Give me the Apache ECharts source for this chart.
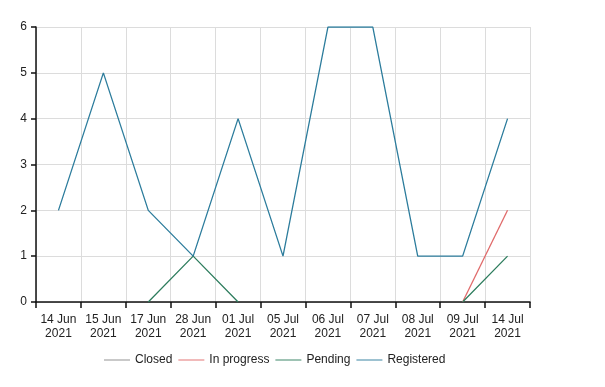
<!DOCTYPE html>
<html><head><meta charset="utf-8">
<script src="https://cdn.jsdelivr.net/npm/echarts@6/dist/echarts.min.js"></script>
<style>html,body{margin:0;padding:0;background:#fff}#c{width:605px;height:387px}</style>
</head><body><div id="c"></div>
<script>
const categories = ["14 Jun\n2021","15 Jun\n2021","17 Jun\n2021","28 Jun\n2021","01 Jul\n2021","05 Jul\n2021","06 Jul\n2021","07 Jul\n2021","08 Jul\n2021","09 Jul\n2021","14 Jul\n2021"];
const closed = [null,null,null,null,null,null,null,null,null,null,null];
const inProgress = [null,null,null,null,null,null,null,null,null,0,2];
const pending = [null,null,0,1,0,null,null,null,null,0,1];
const registered = [2,5,2,1,4,1,6,6,1,1,4];
const yTicks = [0,1,2,3,4,5,6];

const chart = echarts.init(document.getElementById('c'));
const mk = (name, data, color) => ({
  name, type: 'line', data, symbol: 'none', connectNulls: false,
  lineStyle: {color, width: 1.3}, itemStyle: {color}
});
chart.setOption({
  animation: false,
  grid: {left: 36, right: 75, top: 27, bottom: 85},
  legend: {
    bottom: 16, left: 99, itemWidth: 26, itemHeight: 8, itemGap: 6,
    icon: 'path://M0,0L28,0L28,1L0,1Z',
    textStyle: {color: '#222', fontFamily: 'Liberation Sans, Arial', fontSize: 12},
    data: ['Closed','In progress','Pending','Registered']
  },
  xAxis: {
    type: 'category', data: categories, boundaryGap: true,
    axisLine: {lineStyle: {color: '#111', width: 1.5}},
    axisTick: {show: true, length: 6, lineStyle: {color: '#111', width: 1.5}},
    axisLabel: {color: '#222', fontSize: 12, fontFamily: 'Liberation Sans, Arial', lineHeight: 14, margin: 11, interval: 0},
    splitLine: {show: true, lineStyle: {color: '#dcdcdc'}}
  },
  yAxis: {
    type: 'value', min: yTicks[0], max: yTicks[yTicks.length-1], interval: 1,
    axisLine: {show: true, lineStyle: {color: '#111', width: 1.5}},
    axisTick: {show: true, length: 5, lineStyle: {color: '#111', width: 1.5}},
    axisLabel: {color: '#222', fontSize: 12, fontFamily: 'Liberation Sans, Arial', margin: 9},
    splitLine: {show: true, lineStyle: {color: '#dcdcdc'}}
  },
  series: [
    mk('Closed', closed, '#8a8a8a'),
    mk('In progress', inProgress, '#e06a6a'),
    mk('Pending', pending, '#2e7d5e'),
    mk('Registered', registered, '#2c7c9c')
  ]
});
</script></body></html>
